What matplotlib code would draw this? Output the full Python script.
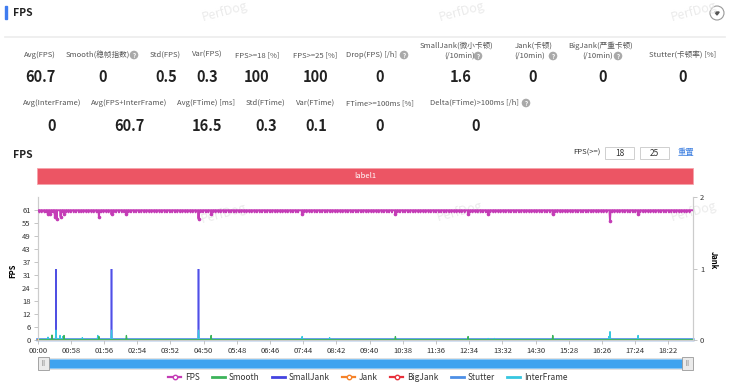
import numpy as np
import matplotlib.pyplot as plt
from matplotlib.patches import Rectangle, Circle, Polygon
from matplotlib.lines import Line2D

plt.rcParams['font.family'] = ['Noto Sans CJK SC', 'DejaVu Sans']

W, H = 730, 384

# ---------------- data ----------------
n_sec = 1146
fps_base = 61
# seconds where FPS drops to 60
fps_dip60 = [3, 7, 12, 15, 24, 27, 43, 50, 54, 58, 63, 67, 72, 76, 80, 85, 89, 94, 98,
             103, 111, 115, 120, 124, 133, 137, 142, 147, 151, 159, 163, 168, 172, 177,
             181, 186, 190, 195, 199, 204, 208, 213, 217, 222, 226, 231, 235, 240, 244,
             249, 253, 258, 262, 267, 271, 276, 285, 289, 294, 298, 307, 311, 316, 320,
             325, 329, 334, 338, 343, 347, 352, 356, 361, 365, 370, 374, 379, 383, 388,
             392, 397, 401, 406, 410, 415, 419, 424, 428, 433, 437, 442, 446, 451, 455,
             466, 470, 475, 479, 484, 488, 493, 497, 502, 506, 511, 515, 520, 524, 529,
             533, 538, 542, 547, 551, 556, 560, 565, 569, 574, 578, 583, 587, 592, 596,
             601, 605, 610, 614, 619, 629, 633, 638, 642, 647, 651, 656, 660, 665, 669,
             674, 678, 683, 687, 692, 696, 701, 705, 710, 714, 719, 723, 728, 732, 737,
             741, 746, 756, 760, 765, 769, 774, 778, 783, 791, 796, 800, 805, 809, 814,
             818, 823, 827, 832, 836, 841, 845, 850, 854, 859, 863, 868, 872, 877, 881,
             886, 890, 895, 904, 908, 913, 917, 922, 926, 931, 935, 940, 944, 949, 953,
             958, 962, 967, 971, 976, 980, 985, 989, 994, 1004, 1008, 1013, 1017, 1022,
             1026, 1031, 1035, 1040, 1044, 1053, 1058, 1062, 1067, 1071, 1076, 1080,
             1085, 1089, 1094, 1098, 1103, 1107, 1112, 1116, 1121, 1125, 1130, 1134, 1139]
fps_deep_t = [18, 21, 30, 33, 40, 46, 107, 129, 155, 281, 303, 462, 625, 752, 787, 900, 1000, 1049]
fps_deep_v = [59, 59, 58, 57, 58, 59, 58, 59, 59, 57, 59, 59, 59, 59, 59, 59, 56, 59]

smooth_t = [25, 46, 107, 155, 303, 625, 752, 900]
smooth_v = [2.2, 2.0, 1.5, 2.0, 2.0, 1.5, 1.5, 2.0]
inter_t = [18, 32, 39, 44, 78, 105, 129, 281, 462, 510, 787, 798, 998, 1000, 1049]
inter_v = [1.2, 4.5, 2.0, 1.5, 1.0, 2.0, 4.5, 4.5, 1.5, 1.0, 0.6, 0.6, 1.5, 3.8, 2.0]
smalljank_t = [32, 129, 281]
smalljank_v = [1, 1, 1]

fps_ticks_lbl = ['0', '6', '12', '18', '24', '31', '37', '43', '49', '55', '61']
fps_tick_step = 6.1
x_tick_lbl = ['00:00', '00:58', '01:56', '02:54', '03:52', '04:50', '05:48', '06:46',
              '07:44', '08:42', '09:40', '10:38', '11:36', '12:34', '13:32', '14:30',
              '15:28', '16:26', '17:24', '18:22']
x_tick_step = 58

row1_labels = ['Avg(FPS)', 'Smooth(稳帧指数)', 'Std(FPS)', 'Var(FPS)', 'FPS>=18 [%]',
               'FPS>=25 [%]', 'Drop(FPS) [/h]', 'SmallJank(微小卡顿)', 'Jank(卡顿)',
               'BigJank(严重卡顿)', 'Stutter(卡顿率) [%]']
row1_sub = [None, None, None, None, None, None, None, '(/10min)', '(/10min)', '(/10min)', None]
row1_values = ['60.7', '0', '0.5', '0.3', '100', '100', '0', '1.6', '0', '0', '0']
row2_labels = ['Avg(InterFrame)', 'Avg(FPS+InterFrame)', 'Avg(FTime) [ms]', 'Std(FTime)',
               'Var(FTime)', 'FTime>=100ms [%]', 'Delta(FTime)>100ms [/h]']
row2_values = ['0', '60.7', '16.5', '0.3', '0.1', '0', '0']

# ---------------- layout ----------------
row1_lx = [40, 98, 165, 207, 257, 315, 372, 457, 534, 601, 683]
row1_sx = [None, None, None, None, None, None, None, 460, 530, 598, None]
row1_vx = [40, 103, 166, 207, 257, 316, 380, 461, 533, 603, 683]
row1_help = [None, 134, None, None, None, None, 404, 478, 553, 618, None]
row2_lx = [52, 129, 206, 266, 316, 380, 474]
row2_vx = [52, 129, 207, 266, 316, 380, 476]
row2_help = [None, None, None, None, None, None, 526]

c_fps = '#c43cb6'
c_smooth = '#3cb35a'
c_small = '#4343e0'
c_jank = '#f5822a'
c_big = '#e8313c'
c_stutter = '#4d8fe6'
c_inter = '#36c6e0'

fig = plt.figure(figsize=(W / 100, H / 100), dpi=100)
deco = fig.add_axes([0, 0, 1, 1])
deco.set_xlim(0, W)
deco.set_ylim(H, 0)
deco.axis('off')

# watermarks
for wx, wy in [(225, 12), (462, 12), (694, 12), (224, 214), (460, 212), (694, 212)]:
    deco.text(wx, wy, 'PerfDog', rotation=15, color='#ebebeb', fontsize=9,
              ha='center', va='center', fontstyle='italic')

# header
deco.add_patch(Rectangle((5, 6), 1.6, 13, color='#3f7cf0'))
deco.text(13, 12.5, 'FPS', fontsize=7.5, fontweight='bold', va='center', color='#222')
deco.plot([5, 725], [37, 37], color='#ececec', lw=1.2)
deco.add_patch(Circle((717, 13), 7, fc='white', ec='#999', lw=0.8))
deco.add_patch(Polygon([(714.8, 12), (719.2, 12), (717, 15)], color='#555'))


def help_icon(x, y):
    deco.add_patch(Circle((x, y), 3.6, color='#a9a9a9'))
    deco.text(x, y + 0.3, '?', color='white', fontsize=4.5, ha='center', va='center',
              fontweight='bold')


for i, lab in enumerate(row1_labels):
    if row1_sub[i]:
        deco.text(row1_lx[i], 46, lab, fontsize=5.5, color='#555', ha='center', va='center')
        deco.text(row1_sx[i], 56, row1_sub[i], fontsize=5.5, color='#555', ha='center', va='center')
    else:
        deco.text(row1_lx[i], 55, lab, fontsize=5.5, color='#555', ha='center', va='center')
    deco.text(row1_vx[i], 77, row1_values[i], fontsize=10.5, fontweight='bold', color='#222',
              ha='center', va='center')
    if row1_help[i]:
        help_icon(row1_help[i], 56 if row1_sub[i] else 55)
for lab, val, lx, vx, hx in zip(row2_labels, row2_values, row2_lx, row2_vx, row2_help):
    deco.text(lx, 103, lab, fontsize=5.5, color='#555', ha='center', va='center')
    deco.text(vx, 126, val, fontsize=10.5, fontweight='bold', color='#222', ha='center', va='center')
    if hx:
        help_icon(hx, 103)

# chart header and threshold controls
deco.text(13, 154.5, 'FPS', fontsize=7.5, fontweight='bold', va='center', color='#222')
deco.text(601, 153, 'FPS(>=)', fontsize=5.5, color='#333', ha='right', va='center')
for bx, tv in [(605, '18'), (640, '25')]:
    deco.add_patch(Rectangle((bx, 147), 29, 12, fc='white', ec='#cfcfcf', lw=0.7))
    deco.text(bx + 14.5, 153, tv, fontsize=6, color='#333', ha='center', va='center')
deco.text(686, 153, '重置', fontsize=6, color='#3a7de0', ha='center', va='center')

deco.add_patch(Rectangle((37, 168), 656, 16, fc='#ec5564', ec='#f5a3aa', lw=0.6))
deco.text(365, 176, 'label1', fontsize=5.5, color='white', ha='center', va='center')

# axis titles
deco.text(13, 271, 'FPS', rotation=90, fontsize=5.5, fontweight='bold', ha='center', va='center')
deco.text(713, 260, 'Jank', rotation=270, fontsize=5.5, fontweight='bold', ha='center', va='center')

# slider
deco.add_patch(Rectangle((38, 357.5), 654, 11, fc='#f3f3f3', ec='#dddddd', lw=0.6))
deco.add_patch(Rectangle((44, 358.5), 643, 9.5, fc='#3ea3ef', ec='#86c6f6', lw=0.6))
for hx in [38, 682]:
    deco.add_patch(Rectangle((hx, 356.5), 11, 13, fc='#ebebeb', ec='#999', lw=0.6))
    deco.text(hx + 5.5, 363, '|||', fontsize=3.5, color='#777', ha='center', va='center')

# ---------------- chart ----------------
t = np.arange(n_sec)
fps = np.full(n_sec, fps_base, dtype=float)
fps[fps_dip60] = 60
fps[fps_deep_t] = fps_deep_v
smooth = np.zeros(n_sec)
smooth[smooth_t] = smooth_v
inter = np.zeros(n_sec)
inter[inter_t] = inter_v
zeros = np.zeros(n_sec)

ax = fig.add_axes([37.7 / W, 1 - 339.7 / H, (693 - 37.7) / W, (339.7 - 197.3) / H])
ax2 = ax.twinx()
for a in (ax, ax2):
    a.patch.set_visible(False)
ax.set_zorder(3)
ax2.set_zorder(2)

ax2.bar(smalljank_t, smalljank_v, width=5, color='#9a9af7', zorder=2)
ax2.bar(smalljank_t, smalljank_v, width=2, color=c_small, alpha=0.85, zorder=2)
ax2.plot(t, zeros, color=c_stutter, lw=2.2, clip_on=False, zorder=1)
ax2.plot(t, zeros, color=c_big, lw=1.0, clip_on=False, zorder=3)
ax2.plot(t, zeros, color=c_jank, lw=1.0, clip_on=False, zorder=4)

ax.plot(t, inter, color=c_inter, lw=0.9, zorder=2)
ax.plot(t, smooth, color=c_smooth, lw=0.9, zorder=2)
ax.plot(t, fps, color=c_fps, lw=1.4, marker='o', ms=1.6, markevery=fps_deep_t, zorder=4)

ax.set_xlim(0, n_sec - 1)
ax.set_ylim(0, 11 * fps_tick_step)
ax2.set_ylim(0, 2)
ax.set_yticks([i * fps_tick_step for i in range(len(fps_ticks_lbl))])
ax.set_yticklabels(fps_ticks_lbl)
ax2.set_yticks([0, 1, 2])
ax.set_xticks([i * x_tick_step for i in range(len(x_tick_lbl))])
ax.set_xticklabels(x_tick_lbl)

for a in (ax, ax2):
    a.spines['top'].set_visible(False)
    for s in ('left', 'right', 'bottom'):
        a.spines[s].set_color('#cccccc')
        a.spines[s].set_linewidth(0.8)
ax.tick_params(axis='both', length=3, width=0.6, color='#bbbbbb', labelsize=5.5,
               labelcolor='#333', pad=2)
ax2.tick_params(axis='y', length=3, width=0.6, color='#bbbbbb', labelsize=5.5,
                labelcolor='#333', pad=2)

# legend
handles = [
    Line2D([], [], color=c_fps, lw=1.6, marker='o', ms=3.2, mfc='white', mec=c_fps),
    Line2D([], [], color=c_smooth, lw=2),
    Line2D([], [], color=c_small, lw=2),
    Line2D([], [], color=c_jank, lw=1.6, marker='o', ms=3.2, mfc='white', mec=c_jank),
    Line2D([], [], color=c_big, lw=1.6, marker='o', ms=3.2, mfc='white', mec=c_big),
    Line2D([], [], color=c_stutter, lw=2),
    Line2D([], [], color=c_inter, lw=2),
]
labels = ['FPS', 'Smooth', 'SmallJank', 'Jank', 'BigJank', 'Stutter', 'InterFrame']
leg = fig.legend(handles, labels, loc='center', bbox_to_anchor=(368 / W, 1 - 377.5 / H),
                 ncol=7, frameon=False, fontsize=6, handlelength=1.5, columnspacing=1.5,
                 handletextpad=0.5)
for txt in leg.get_texts():
    txt.set_color('#333')

fig.savefig('out.png', dpi=100)
